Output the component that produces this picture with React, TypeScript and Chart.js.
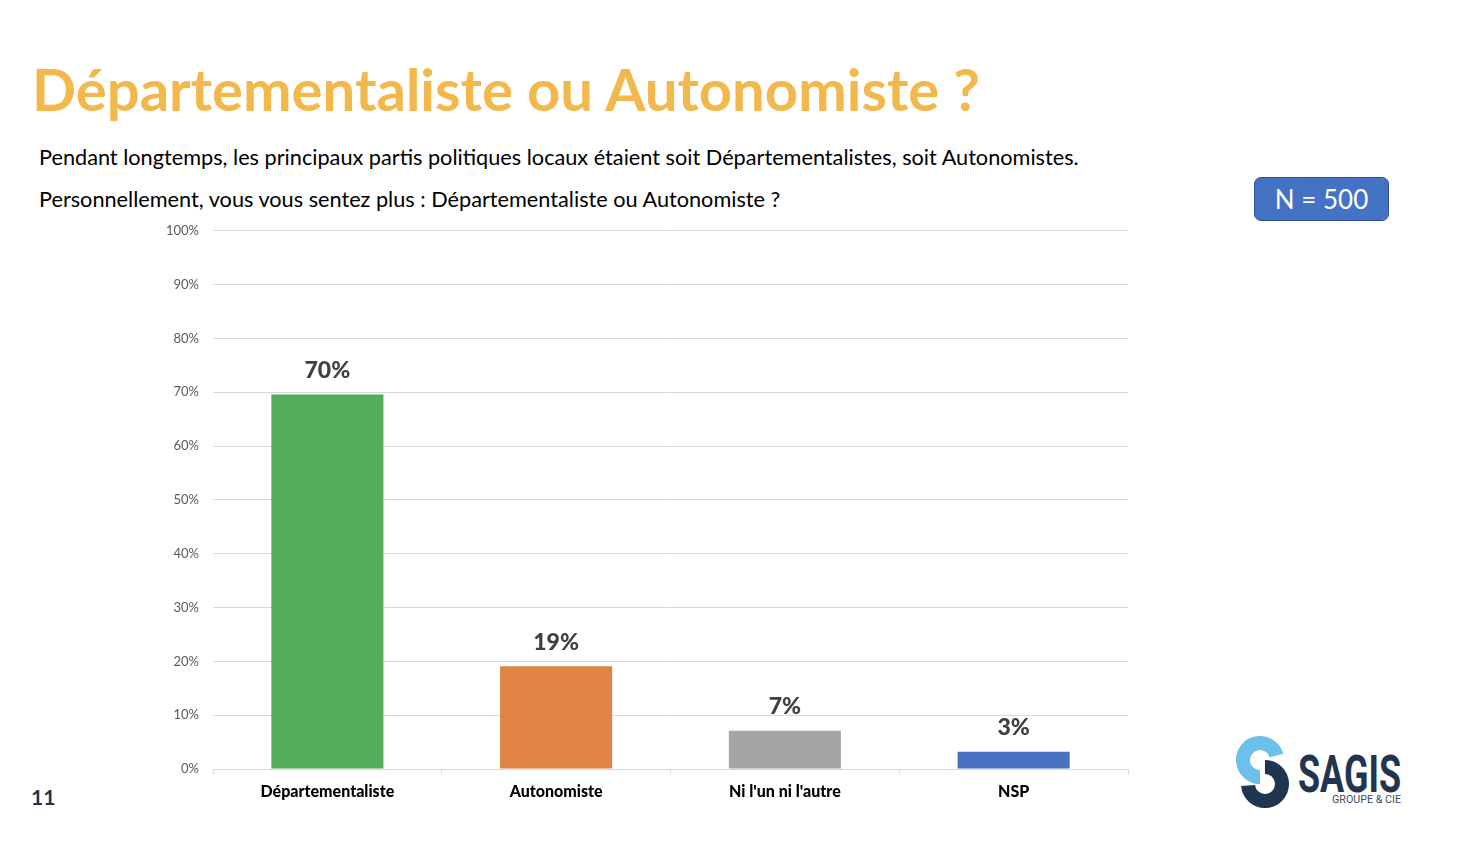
import React, { useEffect, useRef } from "react";
import { Chart, registerables } from "chart.js";

Chart.register(...registerables);

const categories = ["Départementaliste", "Autonomiste", "Ni l'un ni l'autre", "NSP"];
const values = [69.6, 19.1, 7.1, 3.2];
const valueLabels = ["70%", "19%", "7%", "3%"];
const barColors = ["#52ae5d", "#df8443", "#a5a5a5", "#4b72c2"];
const yTicks = [0, 10, 20, 30, 40, 50, 60, 70, 80, 90, 100];

const FONT = "Lato, 'Open Sans', sans-serif";

const valueLabelPlugin = {
  id: "valueLabels",
  afterDatasetsDraw(chart: any) {
    const ctx = chart.ctx;
    const meta = chart.getDatasetMeta(0);
    ctx.save();
    ctx.font = `900 23px ${FONT}`;
    ctx.fillStyle = "#404040";
    ctx.textAlign = "center";
    ctx.textBaseline = "middle";
    meta.data.forEach((bar: any, i: number) => {
      ctx.fillText(valueLabels[i], bar.x, bar.y - 24);
    });
    ctx.restore();
  },
};

function BarChart() {
  const ref = useRef<HTMLCanvasElement | null>(null);
  useEffect(() => {
    if (!ref.current) return;
    const chart = new Chart(ref.current, {
      type: "bar",
      data: {
        labels: categories,
        datasets: [
          {
            data: values,
            backgroundColor: barColors,
            barPercentage: 0.49,
            categoryPercentage: 1,
          },
        ],
      },
      options: {
        animation: false,
        responsive: false,
        maintainAspectRatio: false,
        layout: { padding: { top: 9, right: 12, left: 0, bottom: 0 } },
        plugins: { legend: { display: false }, tooltip: { enabled: false } },
        scales: {
          y: {
            min: 0,
            max: 100,
            afterFit(scale: any) {
              scale.width = 73;
            },
            afterBuildTicks(scale: any) {
              scale.ticks = yTicks.map((v) => ({ value: v }));
            },
            ticks: {
              padding: 14,
              color: "#595959",
              font: { family: FONT, size: 13 },
              callback: (v: any) => `${v}%`,
            },
            grid: { color: "#d9d9d9", lineWidth: 1, drawTicks: false },
            border: { display: false },
          },
          x: {
            afterFit(scale: any) {
              scale.height = 46;
            },
            ticks: {
              padding: 8,
              color: "#000000",
              font: { family: FONT, size: 16, weight: "900" },
            },
            grid: {
              display: true,
              drawOnChartArea: false,
              drawTicks: true,
              tickLength: 5,
              color: "#d9d9d9",
              offset: true,
            },
            border: { display: true, color: "#d9d9d9" },
          },
        },
      },
      plugins: [valueLabelPlugin],
    });
    return () => chart.destroy();
  }, []);
  return (
    <canvas
      ref={ref}
      width={1000}
      height={606}
      style={{ position: "absolute", left: 140, top: 209, width: 1000, height: 606 }}
    />
  );
}

function Logo() {
  return (
    <svg
      width={190}
      height={90}
      viewBox="0 0 190 90"
      style={{ position: "absolute", left: 1226, top: 728 }}
    >
      <path
        d="M 50.4 27.6 A 17 17 0 1 0 34 49"
        fill="none"
        stroke="#6cc0ec"
        strokeWidth={14}
      />
      <path
        d="M 39 39 A 17 17 0 1 1 22.06 57.5"
        fill="none"
        stroke="#1f3550"
        strokeWidth={14}
      />
      <text
        x={72}
        y={64}
        textLength={103}
        lengthAdjust="spacingAndGlyphs"
        fill="#1f3550"
        style={{ font: "bold 52px Roboto, sans-serif" }}
      >
        SAGIS
      </text>
      <text
        x={106}
        y={75}
        textLength={69}
        lengthAdjust="spacingAndGlyphs"
        fill="#3c4d63"
        style={{ font: "10px Roboto, sans-serif" }}
      >
        GROUPE &amp; CIE
      </text>
    </svg>
  );
}

export default function App() {
  return (
    <div
      style={{
        position: "fixed",
        left: 0,
        top: 0,
        width: 1468,
        height: 856,
        background: "#ffffff",
        fontFamily: FONT,
        overflow: "hidden",
      }}
    >
      <div
        style={{
          position: "absolute",
          left: 32,
          top: 54,
          fontSize: 58,
          fontWeight: "bold",
          color: "#f2b84b",
          whiteSpace: "nowrap",
          lineHeight: "70px",
        }}
      >
        Départementaliste ou Autonomiste ?
      </div>
      <div
        style={{
          position: "absolute",
          left: 39,
          top: 144,
          fontSize: 21.7,
          color: "#000",
          whiteSpace: "nowrap",
          lineHeight: "26px",
        }}
      >
        Pendant longtemps, les principaux partis politiques locaux étaient soit Départementalistes, soit Autonomistes.
      </div>
      <div
        style={{
          position: "absolute",
          left: 39,
          top: 186,
          fontSize: 21.7,
          color: "#000",
          whiteSpace: "nowrap",
          lineHeight: "26px",
        }}
      >
        Personnellement, vous vous sentez plus : Départementaliste ou Autonomiste ?
      </div>
      <div
        style={{
          position: "absolute",
          left: 1254,
          top: 177,
          width: 135,
          height: 44,
          boxSizing: "border-box",
          background: "#4472c4",
          border: "1.5px solid #2f528f",
          borderRadius: 7,
          color: "#fff",
          fontSize: 26,
          display: "flex",
          alignItems: "center",
          justifyContent: "center",
        }}
      >
        N = 500
      </div>
      <BarChart />
      <div
        style={{
          position: "absolute",
          left: 31,
          top: 784,
          fontSize: 21,
          fontWeight: "bold",
          color: "#1f3550",
          lineHeight: "26px",
        }}
      >
        11
      </div>
      <Logo />
    </div>
  );
}
